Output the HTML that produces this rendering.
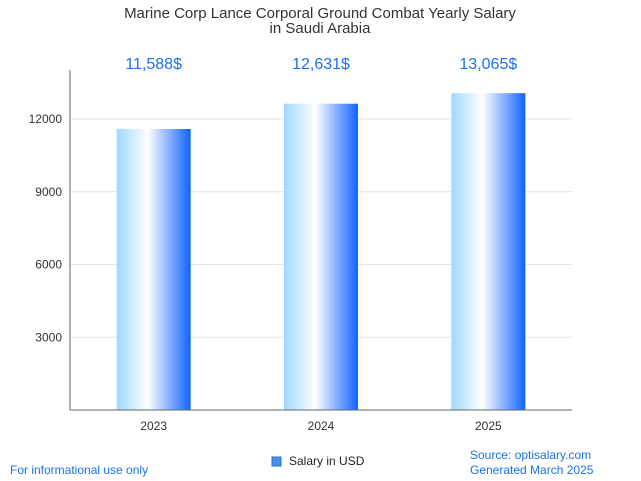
<!DOCTYPE html>
<html><head><meta charset="utf-8"><style>
body{margin:0;background:#fff;font-family:"Liberation Sans",sans-serif;}
svg{display:block}
</style></head><body>
<svg id="c" width="641" height="481">
<defs><linearGradient id="g" x1="0" x2="1" y1="0" y2="0">
<stop offset="0" stop-color="#9fd8ff"/><stop offset="0.42" stop-color="#ffffff"/><stop offset="1" stop-color="#0f63ff"/></linearGradient></defs>
<text x="320" y="18" text-anchor="middle" font-size="15" fill="#333">Marine Corp Lance Corporal Ground Combat Yearly Salary</text>
<text x="320" y="33" text-anchor="middle" font-size="15" fill="#333">in Saudi Arabia</text>
<g id="grid"></g><g id="bars"></g>
<line x1="70" y1="70" x2="70" y2="410" stroke="#666"/>
<line x1="70" y1="410" x2="572" y2="410" stroke="#666"/>
<rect x="272" y="457" width="9" height="9" fill="#4a90e2" stroke="#2a6cc0"/>
<text x="289" y="465" font-size="12" fill="#222">Salary in USD</text>
<text x="10" y="474" font-size="12" fill="#1a73e8">For informational use only</text>
<text x="470" y="459" font-size="12" fill="#1a73e8">Source: optisalary.com</text>
<text x="470" y="474" font-size="12" fill="#1a73e8">Generated March 2025</text>
</svg>
<script>
const categories=["2023","2024","2025"];
const values=[11588,12631,13065];
const valueLabels=["11,588$","12,631$","13,065$"];
const yTicks=[3000,6000,9000,12000];
const ns="http://www.w3.org/2000/svg";
const x0=70,x1=572,yBase=410,pxPer=72.75/3000;
const y=v=>yBase-v*pxPer;
const band=(x1-x0)/categories.length;
const grid=document.getElementById('grid'),bars=document.getElementById('bars');
function mk(t,a,p){const e=document.createElementNS(ns,t);for(const k in a)e.setAttribute(k,a[k]);p.appendChild(e);return e;}
yTicks.forEach(t=>{
 const l=mk('line',{x1:x0,x2:x1,y1:y(t),y2:y(t),stroke:"#e4e4e4"},grid);
 
 
 const tx=mk('text',{x:62,y:y(t)+4,'text-anchor':'end','font-size':12,fill:'#333'},grid);
 tx.textContent=t;
 
 
});
categories.forEach((c,i)=>{
 const cx=x0+band*(i+0.5);
 const r=mk('rect',{x:cx-37,y:y(values[i]),width:74,height:yBase-y(values[i]),fill:'url(#g)'},bars);
 
 
 const v=mk('text',{x:cx,y:69,'text-anchor':'middle','font-size':16,fill:'#1a73e8'},bars);
 v.textContent=valueLabels[i];
 
 
 const xl=mk('text',{x:cx,y:430,'text-anchor':'middle','font-size':12,fill:'#333'},bars);
 xl.textContent=c;
 
 
});
</script>
</body></html>
